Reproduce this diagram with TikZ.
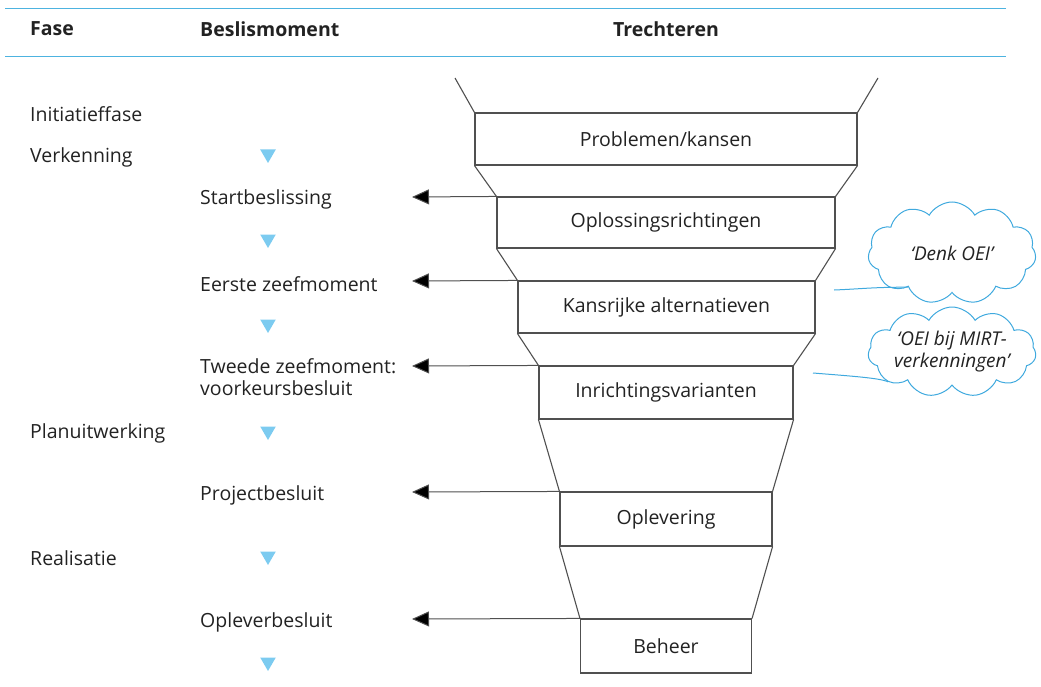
\documentclass[tikz,border=0pt]{standalone}
\usepackage{fontspec}
\setmainfont{Open Sans}
\usetikzlibrary{shapes.geometric,shapes.symbols,arrows.meta}
\definecolor{hblue}{HTML}{4DB3E0}
\definecolor{tblue}{HTML}{7CCBF0}
\definecolor{cblue}{HTML}{3FA9DE}
\definecolor{fgray}{HTML}{505050}
\definecolor{txt}{HTML}{222222}
\begin{document}
\begin{tikzpicture}[x=1pt,y=-1pt,
  every node/.style={text=txt},
  lbl/.style={font=\fontsize{19.5}{22}\selectfont, anchor=west, inner sep=0pt},
  hdr/.style={font=\fontsize{19.5}{22}\selectfont\bfseries, inner sep=0pt},
  box/.style={draw=fgray, line width=1.1pt, font=\fontsize{19.5}{22}\selectfont, inner sep=0pt},
  fline/.style={draw=fgray, line width=1.1pt},
  arr/.style={draw=fgray, line width=1pt, -{Triangle[length=17pt,width=15pt,fill=black]}},
  tri/.style={regular polygon, regular polygon sides=3, shape border rotate=180, fill=tblue, inner sep=0pt, minimum size=18pt},
  cl/.style={cloud, cloud puffs=11, cloud puff arc=120, cloud ignores aspect, draw=cblue, line width=1pt, align=center, font=\fontsize{19}{22}\selectfont\itshape, inner sep=0pt},
  tail/.style={draw=cblue, line width=1pt}]
\useasboundingbox (0,0) rectangle (1041,687);
% header
\draw[hblue, line width=1pt] (5,9) -- (1006,9);
\draw[hblue, line width=1pt] (5,57) -- (1006,57);
\node[hdr, anchor=west] (hf) at (30,29) {Fase};
\node[hdr, anchor=west] (hb) at (200,29) {Beslismoment};
\node[hdr] (ht) at (666,29) {Trechteren};
% phases
\node[lbl] (p1) at (30,114) {Initiatieffase};
\node[lbl] (p2) at (30,157) {Verkenning};
\node[lbl] (p3) at (30,433) {Planuitwerking};
\node[lbl] (p4) at (30,558) {Realisatie};
% decisions
\node[lbl] (d1) at (200,199) {Startbeslissing};
\node[lbl] (d2) at (200,284) {Eerste zeefmoment};
\node[lbl, align=left] (d3) at (200,377) {Tweede zeefmoment:\\voorkeursbesluit};
\node[lbl] (d4) at (200,495) {Projectbesluit};
\node[lbl] (d5) at (200,622) {Opleverbesluit};
% triangles
\foreach \y [count=\i] in {154,239,324,431,556,662}
  \node[tri] (v\i) at (268,\y) {};
% funnel boxes
\node[box, minimum width=382pt, minimum height=52pt] (b1) at (666,139) {Problemen/kansen};
\node[box, minimum width=338pt, minimum height=51pt] (b2) at (666,222.5) {Oplossingsrichtingen};
\node[box, minimum width=297pt, minimum height=52pt] (b3) at (666.5,307) {Kansrijke alternatieven};
\node[box, minimum width=254pt, minimum height=53pt] (b4) at (666,392.5) {Inrichtingsvarianten};
\node[box, minimum width=212pt, minimum height=54pt] (b5) at (666,519) {Oplevering};
\node[box, minimum width=171pt, minimum height=54pt] (b6) at (666,646) {Beheer};
\coordinate (tl) at (455,78);
\coordinate (tr) at (878,78);
\draw[fline] (tl) -- (b1.north west);
\draw[fline] (tr) -- (b1.north east);
\foreach \a/\b in {b1/b2,b2/b3,b3/b4,b4/b5,b5/b6}{
  \draw[fline] (\a.south west) -- (\b.north west);
  \draw[fline] (\a.south east) -- (\b.north east);
}
% arrows
\coordinate (a1) at (412,197);
\coordinate (a2) at (412,281);
\coordinate (a3) at (412,366);
\coordinate (a4) at (412,492);
\coordinate (a5) at (412,619);
\draw[arr] (b2.north west) -- (a1);
\draw[arr] (b3.north west) -- (a2);
\draw[arr] (b4.north west) -- (a3);
\draw[arr] (b5.north west) -- (a4);
\draw[arr] (b6.north west) -- (a5);
% clouds
\node[cl, minimum width=168pt, minimum height=102pt] (c1) at (952,253) {`Denk OEI'};
\node[cl, minimum width=168pt, minimum height=90pt] (c2) at (952,352) {`OEI bij MIRT-\\verkenningen'};
\coordinate (k1) at (834,290);
\coordinate (k2) at (813,373);
\draw[tail] (k1) .. controls (860,289) and (875,287) .. (c1.218);
\draw[tail] (k2) .. controls (850,376) and (880,378) .. (c2.205);
\end{tikzpicture}
\end{document}
